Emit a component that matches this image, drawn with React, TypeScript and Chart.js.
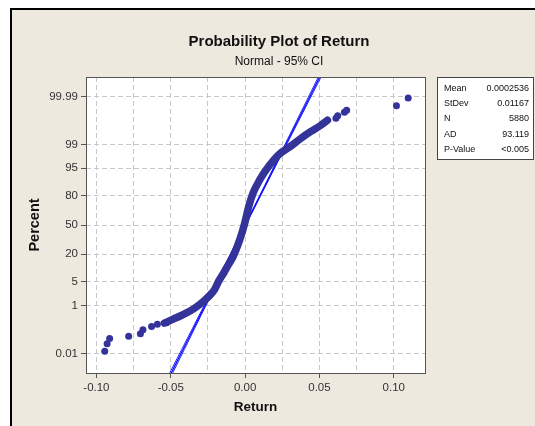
import React, { useEffect, useRef } from "react";
import { Chart, registerables } from "chart.js";

Chart.register(...registerables);

// ---- data (x = Return, p = cumulative percent) ----
const lowTailX = [-0.0944, -0.0928, -0.0911, -0.0783, -0.0704, -0.0687, -0.0629, -0.059, -0.0529];
const lowTailPct = [0.013, 0.03, 0.051, 0.064, 0.084, 0.124, 0.165, 0.207, 0.237];

const bodyX = [
  -0.0543, -0.0484, -0.0417, -0.0349, -0.0294, -0.0253, -0.0206, -0.0176, -0.0144, -0.0112, -0.008,
  -0.0036, -0.0002, 0.0025, 0.0054, 0.0099, 0.0159, 0.0226, 0.0305, 0.0372, 0.044, 0.0507, 0.0554,
];
const bodyPct = [
  0.227, 0.324, 0.48, 0.75, 1.19, 1.78, 3.07, 5.37, 8.26, 12.6, 18.2,
  33.5, 52.3, 70.5, 82.3, 90.5, 95.5, 97.9, 98.85, 99.37, 99.65, 99.8, 99.877,
];

const highTailX = [0.0611, 0.0623, 0.0668, 0.0683, 0.1018, 0.1097];
const highTailPct = [99.899, 99.92, 99.945, 99.955, 99.972, 99.988];

// fitted normal line (Mean 0.0002536, StDev 0.01167) and its 95% CI
const fitX = [-0.0552, 0.0557];
const fitPct = [0.0001, 99.9999];
const ciLowX = [-0.0563, -0.0001, 0.0547];
const ciHighX = [-0.0541, 0.0005, 0.0567];
const ciPct = [0.0001, 50, 99.9999];

// axes
const xGridValues = [-0.1, -0.075, -0.05, -0.025, 0, 0.025, 0.05, 0.075, 0.1];
const xLabelValues = [-0.1, -0.05, 0, 0.05, 0.1];
const yTickPct = [0.01, 1, 5, 20, 50, 80, 95, 99, 99.99];
const yTickLabels = ["0.01", "1", "5", "20", "50", "80", "95", "99", "99.99"];

// stats box
const statLabels = ["Mean", "StDev", "N", "AD", "P-Value"];
const statValues = ["0.0002536", "0.01167", "5880", "93.119", "<0.005"];

// inverse standard normal CDF (probability scale transform)
function normInv(p: number): number {
  const a = [-39.69683028665376, 220.9460984245205, -275.9285104469687, 138.357751867269, -30.66479806614716, 2.506628277459239];
  const b = [-54.47609879822406, 161.5858368580409, -155.6989798598866, 66.80131188771972, -13.28068155288572];
  const c = [-0.007784894002430293, -0.3223964580411365, -2.400758277161838, -2.549732539343734, 4.374664141464968, 2.938163982698783];
  const d = [0.007784695709041462, 0.3224671290700398, 2.445134137142996, 3.754408661907416];
  const pl = 0.02425;
  if (p < pl) {
    const q = Math.sqrt(-2 * Math.log(p));
    return (((((c[0] * q + c[1]) * q + c[2]) * q + c[3]) * q + c[4]) * q + c[5]) / ((((d[0] * q + d[1]) * q + d[2]) * q + d[3]) * q + 1);
  }
  if (p > 1 - pl) {
    const q = Math.sqrt(-2 * Math.log(1 - p));
    return -(((((c[0] * q + c[1]) * q + c[2]) * q + c[3]) * q + c[4]) * q + c[5]) / ((((d[0] * q + d[1]) * q + d[2]) * q + d[3]) * q + 1);
  }
  const q = p - 0.5;
  const r = q * q;
  return ((((((a[0] * r + a[1]) * r + a[2]) * r + a[3]) * r + a[4]) * r + a[5]) * q) / (((((b[0] * r + b[1]) * r + b[2]) * r + b[3]) * r + b[4]) * r + 1);
}
const toZ = (pct: number) => normInv(pct / 100);

const DOT = "#333399";
const FIT = "#0a0aff";
const BEIGE = "#EEE9DF";
const FONT = "'Liberation Sans', Arial, sans-serif";

export default function App() {
  const ref = useRef<HTMLCanvasElement>(null);

  useEffect(() => {
    const canvas = ref.current;
    if (!canvas) return;
    const pts = (xs: number[], ps: number[]) => xs.map((x, i) => ({ x, y: toZ(ps[i]) }));

    const frame = {
      id: "minitabFrame",
      beforeDraw(chart: any) {
        const { ctx, chartArea: ca } = chart;
        ctx.save();
        ctx.fillStyle = "#ffffff";
        ctx.fillRect(0, 0, chart.width, chart.height);
        ctx.fillStyle = BEIGE;
        ctx.fillRect(12, 10, chart.width, chart.height);
        ctx.fillStyle = "#000000";
        ctx.fillRect(10, 8, 2, chart.height);
        ctx.fillRect(10, 8, chart.width, 2);
        ctx.fillStyle = "#ffffff";
        ctx.fillRect(ca.left, ca.top, ca.right - ca.left, ca.bottom - ca.top);
        ctx.restore();
      },
      afterDraw(chart: any) {
        const { ctx, chartArea: ca } = chart;
        ctx.save();
        ctx.strokeStyle = "#555555";
        ctx.lineWidth = 1;
        ctx.strokeRect(ca.left + 0.5, ca.top + 0.5, ca.right - ca.left, ca.bottom - ca.top);

        // titles
        ctx.fillStyle = "#111111";
        ctx.textAlign = "center";
        ctx.textBaseline = "alphabetic";
        ctx.font = `bold 15px ${FONT}`;
        ctx.fillText("Probability Plot of Return", 279, 45.5);
        ctx.font = `12px ${FONT}`;
        ctx.fillText("Normal - 95% CI", 279, 65);

        // axis titles
        ctx.font = `bold 13.5px ${FONT}`;
        ctx.fillText("Return", (ca.left + ca.right) / 2, 410.5);
        ctx.save();
        ctx.translate(38.5, (ca.top + ca.bottom) / 2);
        ctx.rotate(-Math.PI / 2);
        ctx.font = `bold 14.5px ${FONT}`;
        ctx.fillText("Percent", 0, 0);
        ctx.restore();

        // stats box
        ctx.fillStyle = "#ffffff";
        ctx.fillRect(437.5, 77.5, 96, 82);
        ctx.strokeStyle = "#444444";
        ctx.strokeRect(437.5, 77.5, 96, 82);
        ctx.font = `9px ${FONT}`;
        ctx.fillStyle = "#111111";
        ctx.textBaseline = "middle";
        statLabels.forEach((s, i) => {
          const y = 88.5 + i * 15.2;
          ctx.textAlign = "left";
          ctx.fillText(s, 444, y);
          ctx.textAlign = "right";
          ctx.fillText(statValues[i], 529, y);
        });
        ctx.restore();
      },
    };

    const isLabeledX = (v: number) => xLabelValues.some((l) => Math.abs(l - v) < 1e-9);

    const chart = new Chart(canvas, {
      type: "scatter",
      data: {
        datasets: [
          {
            label: "Lower tail",
            data: pts(lowTailX, lowTailPct),
            pointRadius: 3.5,
            pointBackgroundColor: DOT,
            pointBorderColor: DOT,
            pointBorderWidth: 0,
            showLine: false,
          },
          {
            label: "Upper tail",
            data: pts(highTailX, highTailPct),
            pointRadius: 3.5,
            pointBackgroundColor: DOT,
            pointBorderColor: DOT,
            pointBorderWidth: 0,
            showLine: false,
          },
          {
            label: "Body",
            data: pts(bodyX, bodyPct),
            showLine: true,
            borderColor: DOT,
            borderWidth: 7.5,
            borderCapStyle: "round",
            borderJoinStyle: "round",
            cubicInterpolationMode: "monotone",
            pointRadius: 0,
          },
          {
            label: "Fit",
            data: pts(fitX, fitPct),
            showLine: true,
            borderColor: FIT,
            borderWidth: 1.2,
            pointRadius: 0,
            clip: 0,
          },
          {
            label: "CI low",
            data: pts(ciLowX, ciPct),
            showLine: true,
            borderColor: FIT,
            borderWidth: 0.9,
            tension: 0.3,
            pointRadius: 0,
            clip: 0,
          },
          {
            label: "CI high",
            data: pts(ciHighX, ciPct),
            showLine: true,
            borderColor: FIT,
            borderWidth: 0.9,
            tension: 0.3,
            pointRadius: 0,
            clip: 0,
          },
        ] as any,
      },
      options: {
        responsive: false,
        animation: false,
        devicePixelRatio: 1,
        layout: { padding: { top: 77, right: 110, bottom: 0, left: 0 } },
        plugins: { legend: { display: false }, tooltip: { enabled: false }, title: { display: false } },
        scales: {
          x: {
            type: "linear",
            min: -0.107,
            max: 0.121,
            afterBuildTicks: (scale: any) => {
              scale.ticks = xGridValues.map((v) => ({ value: v }));
            },
            afterFit: (scale: any) => {
              scale.height = 53;
            },
            ticks: {
              autoSkip: false,
              maxRotation: 0,
              padding: 3,
              color: "#333333",
              font: { family: FONT, size: 11.5 },
              callback: (v: any) => (isLabeledX(Number(v)) ? Number(v).toFixed(2) : ""),
            },
            grid: {
              color: "#c8c8c8",
              lineWidth: 1,
              tickLength: 5,
              tickWidth: 1,
              tickColor: (ctx: any) => (ctx.tick && isLabeledX(ctx.tick.value) ? "#555555" : "rgba(0,0,0,0)"),
            },
            border: { display: false, dash: [5, 3] },
          },
          y: {
            type: "linear",
            min: -4.28,
            max: 4.28,
            afterBuildTicks: (scale: any) => {
              scale.ticks = yTickPct.map((p) => ({ value: toZ(p) }));
            },
            afterFit: (scale: any) => {
              scale.width = 86;
            },
            ticks: {
              autoSkip: false,
              padding: 3,
              color: "#333333",
              font: { family: FONT, size: 11.5 },
              callback: (_v: any, i: number) => yTickLabels[i],
            },
            grid: {
              color: "#c8c8c8",
              lineWidth: 1,
              tickLength: 5,
              tickWidth: 1,
              tickColor: "#555555",
            },
            border: { display: false, dash: [5, 3] },
          },
        },
      } as any,
      plugins: [frame],
    });

    return () => chart.destroy();
  }, []);

  return (
    <div style={{ position: "fixed", left: 0, top: 0, width: 535, height: 426 }}>
      <canvas ref={ref} width={535} height={426} style={{ display: "block" }} />
    </div>
  );
}
